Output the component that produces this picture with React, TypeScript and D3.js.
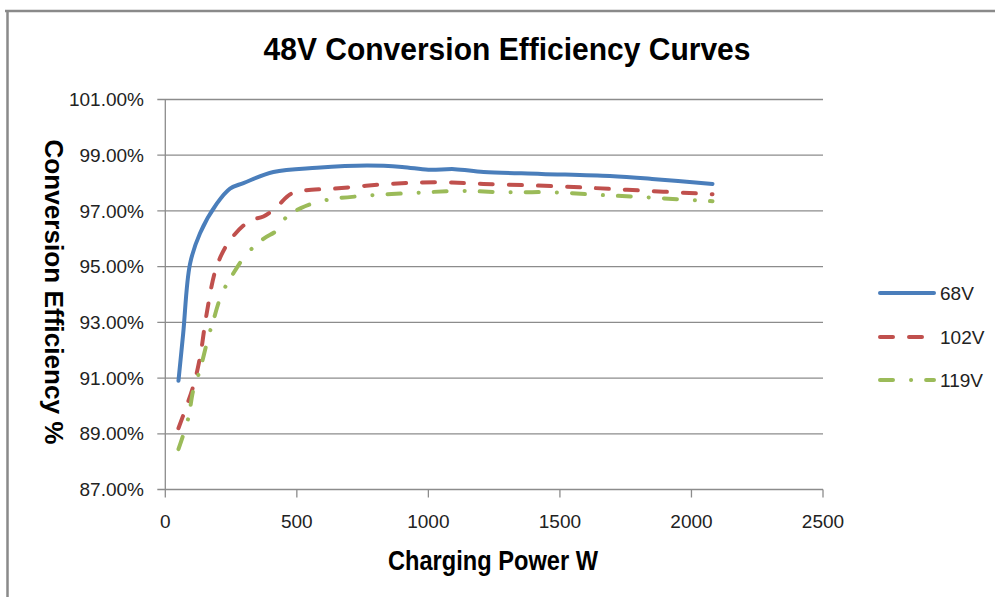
import React from "react";
import * as d3 from "d3";

const seriesNames = ["68V", "102V", "119V"];
const colors = ["#4A7EBB", "#C0504D", "#9BBB59"];

const power68 = [50, 68, 94, 132, 195, 246, 297, 411, 576, 766, 900, 1000, 1100, 1210, 1430, 1690, 1850, 2080];
const eff68 = [90.9, 92.6, 95.1, 96.2, 97.25, 97.8, 98.0, 98.4, 98.55, 98.63, 98.58, 98.48, 98.5, 98.4, 98.33, 98.25, 98.15, 97.97];

const power102 = [50, 106, 132, 157, 195, 246, 322, 373, 424, 475, 525, 639, 854, 1032, 1209, 1500, 1755, 2080];
const eff102 = [89.2, 90.7, 91.75, 93.3, 95.0, 95.95, 96.65, 96.8, 97.15, 97.6, 97.73, 97.8, 97.97, 98.03, 97.97, 97.88, 97.76, 97.6];

const power119 = [50, 87, 106, 132, 163, 182, 214, 258, 309, 373, 424, 462, 515, 600, 766, 956, 1121, 1285, 1464, 1640, 1805, 1983, 2080];
const eff119 = [88.45, 89.55, 90.55, 91.3, 92.45, 93.05, 94.0, 94.75, 95.45, 96.0, 96.3, 96.8, 97.1, 97.37, 97.55, 97.65, 97.72, 97.67, 97.67, 97.58, 97.5, 97.4, 97.35];

const xTicks = [0, 500, 1000, 1500, 2000, 2500];
const yTicks = [87, 89, 91, 93, 95, 97, 99, 101];

const title = "48V Conversion Efficiency Curves";
const xTitle = "Charging Power W";
const yTitle = "Conversion Efficiency %";

const dashes = [null, "13,16", "13,18,0.1,15"];

export default function App() {
  const left = 165.3, right = 823, top = 99.5, bottom = 489.5;
  const x = d3.scaleLinear().domain([0, 2500]).range([left, right]);
  const y = d3.scaleLinear().domain([87, 101]).range([bottom, top]);
  const line = d3
    .line<[number, number]>()
    .x((d) => x(d[0]))
    .y((d) => y(d[1]))
    .curve(d3.curveCatmullRom.alpha(0.5));

  const series = [
    power68.map((p, i) => [p, eff68[i]] as [number, number]),
    power102.map((p, i) => [p, eff102[i]] as [number, number]),
    power119.map((p, i) => [p, eff119[i]] as [number, number]),
  ];

  const fmt = (v: number) => d3.format(".2f")(v) + "%";
  const font = "'Liberation Sans', Arial, sans-serif";
  const legendY = [293, 337, 380];

  return (
    <svg
      width={995}
      height={597}
      style={{ position: "absolute", left: 0, top: 0, background: "#fff" }}
      fontFamily={font}
    >
      <rect x={0} y={0} width={995} height={597} fill="#fff" />
      {/* outer frame */}
      <line x1={5} y1={11} x2={995} y2={11} stroke="#8a8a8a" strokeWidth={2.5} />
      <line x1={7.5} y1={11} x2={7.5} y2={597} stroke="#8a8a8a" strokeWidth={2.5} />

      {/* title */}
      <text
        x={507}
        y={60}
        textAnchor="middle"
        fontSize={31}
        fontWeight="bold"
        fill="#000"
        textLength={487}
        lengthAdjust="spacingAndGlyphs"
      >
        {title}
      </text>

      {/* gridlines and y ticks */}
      {yTicks.map((t) => (
        <g key={t}>
          <line x1={left - 8} x2={right} y1={y(t)} y2={y(t)} stroke="#8c8c8c" strokeWidth={1.3} />
          <text x={144} y={y(t)} dy="0.35em" textAnchor="end" fontSize={19} fill="#222">
            {fmt(t)}
          </text>
        </g>
      ))}
      {/* y axis */}
      <line x1={left} x2={left} y1={top} y2={bottom} stroke="#8c8c8c" strokeWidth={1.3} />
      {/* x ticks */}
      {xTicks.map((t) => (
        <g key={t}>
          <line x1={x(t)} x2={x(t)} y1={bottom} y2={bottom + 8} stroke="#8c8c8c" strokeWidth={1.3} />
          <text x={x(t)} y={521} dy="0.35em" textAnchor="middle" fontSize={19} fill="#222">
            {t}
          </text>
        </g>
      ))}

      {/* axis titles */}
      <text
        x={493}
        y={570}
        textAnchor="middle"
        fontSize={24}
        fontWeight="bold"
        fill="#000"
        textLength={210}
        lengthAdjust="spacingAndGlyphs"
        transform={`translate(0,570) scale(1,1.15) translate(0,-570)`}
      >
        {xTitle}
      </text>
      <text
        transform={`translate(45,292) rotate(90)`}
        textAnchor="middle"
        fontSize={26}
        fontWeight="bold"
        fill="#000"
        textLength={305}
        lengthAdjust="spacingAndGlyphs"
      >
        {yTitle}
      </text>

      {/* series */}
      {series.map((s, i) => (
        <path
          key={i}
          d={line(s) || ""}
          fill="none"
          stroke={colors[i]}
          strokeWidth={4}
          strokeLinecap="round"
          strokeLinejoin="round"
          strokeDasharray={dashes[i] || undefined}
        />
      ))}

      {/* legend */}
      {seriesNames.map((n, i) => (
        <g key={n}>
          <line
            x1={880}
            x2={934}
            y1={legendY[i]}
            y2={legendY[i]}
            stroke={colors[i]}
            strokeWidth={4}
            strokeLinecap="round"
            strokeDasharray={dashes[i] || undefined}
          />
          <text x={940} y={legendY[i]} dy="0.35em" fontSize={19} fill="#222">
            {n}
          </text>
        </g>
      ))}
    </svg>
  );
}
